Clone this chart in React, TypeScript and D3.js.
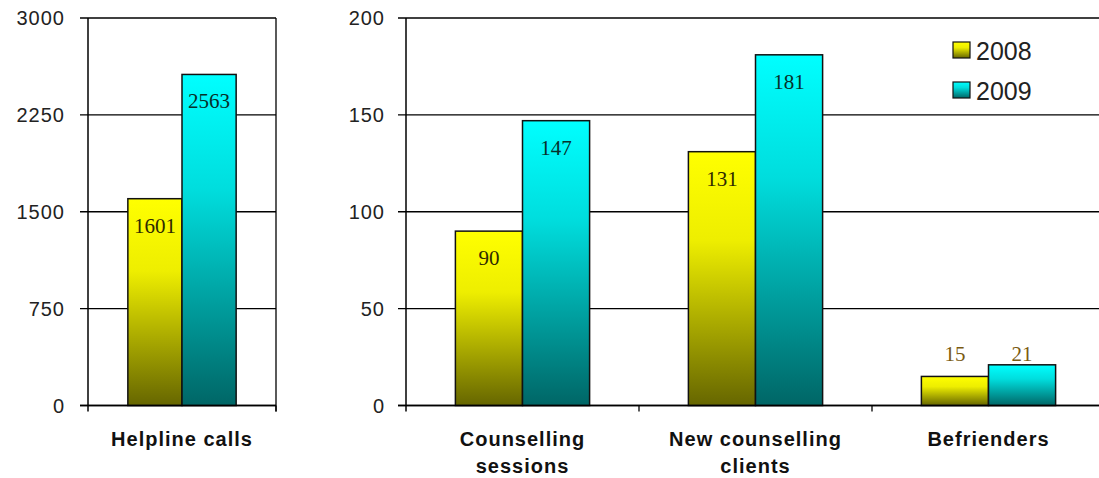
import React from "react";
import * as d3 from "d3";

const series = ["2008", "2009"];
const leftCategories = ["Helpline calls"];
const leftValues2008 = [1601];
const leftValues2009 = [2563];
const leftTicks = [0, 750, 1500, 2250, 3000];

const rightCategories = [["Counselling", "sessions"], ["New counselling", "clients"], ["Befrienders"]];
const rightValues2008 = [90, 131, 15];
const rightValues2009 = [147, 181, 21];
const rightTicks = [0, 50, 100, 150, 200];

const W = 1099;
const H = 478;
const TOP = 18;
const BOTTOM = 405.5;

const fills = ["url(#g2008)", "url(#g2009)"];

type PanelProps = {
  x0: number;
  x1: number;
  max: number;
  ticks: number[];
  cats: string[][];
  v1: number[];
  v2: number[];
  tickLabelX: number;
  rightBorder: boolean;
};

function Panel({ x0, x1, max, ticks, cats, v1, v2, tickLabelX, rightBorder }: PanelProps) {
  const y = d3.scaleLinear().domain([0, max]).range([BOTTOM, TOP]);
  const x = d3
    .scaleBand<number>()
    .domain(cats.map((_, i) => i))
    .range([x0, x1])
    .paddingInner(0)
    .paddingOuter(0);
  const bw = x.bandwidth();
  const inner = d3.scaleBand<number>().domain([0, 1]).range([0, bw]).paddingOuter(0.736).paddingInner(0);
  const vals = [v1, v2];
  return (
    <g>
      {ticks.map((t) => (
        <g key={t}>
          <line x1={x0 - 8} x2={x1} y1={y(t)} y2={y(t)} stroke="#000" strokeWidth={1.3} />
          <text
            x={tickLabelX}
            y={y(t)}
            dy="0.36em"
            textAnchor="end"
            fontFamily="Arial, 'Liberation Sans', sans-serif"
            fontSize={20}
            letterSpacing={1}
            fill="#222"
          >
            {t}
          </text>
        </g>
      ))}
      <line x1={x0} x2={x0} y1={TOP} y2={BOTTOM + 6} stroke="#000" strokeWidth={1.5} />
      {rightBorder && <line x1={x1} x2={x1} y1={TOP} y2={BOTTOM + 6} stroke="#000" strokeWidth={1.3} />}
      {cats.map((_, i) => (
        <line key={i} x1={(x(i) as number) + bw} x2={(x(i) as number) + bw} y1={BOTTOM} y2={BOTTOM + 6} stroke="#000" strokeWidth={1.3} />
      ))}
      {cats.map((c, i) =>
        [0, 1].map((s) => {
          const v = vals[s][i];
          const bx = (x(i) as number) + (inner(s) as number);
          const ib = inner.bandwidth();
          const top = y(v);
          const h = BOTTOM - top;
          const inside = h > 60;
          return (
            <g key={`${i}-${s}`}>
              <rect x={bx} y={top} width={ib} height={h} fill={fills[s]} stroke="#111" strokeWidth={1.5} />
              <text
                x={bx + ib / 2}
                y={inside ? top + 34 : y(25) + 4}
                textAnchor="middle"
                fontFamily="'Liberation Serif', 'Times New Roman', serif"
                fontSize={21}
                fill={inside ? (s === 0 ? "#2e2a00" : "#06302a") : "#7a5a10"}
              >
                {v}
              </text>
            </g>
          );
        })
      )}
      <line x1={x0 - 8} x2={x1} y1={BOTTOM} y2={BOTTOM} stroke="#000" strokeWidth={1.5} />
      {cats.map((c, i) => (
        <text
          key={i}
          x={(x(i) as number) + bw / 2}
          textAnchor="middle"
          fontFamily="Arial, 'Liberation Sans', sans-serif"
          fontWeight="bold"
          fontSize={20}
          letterSpacing={1}
          fill="#111"
        >
          {c.map((line, k) => (
            <tspan key={k} x={(x(i) as number) + bw / 2} y={446 + k * 27}>
              {line}
            </tspan>
          ))}
        </text>
      ))}
    </g>
  );
}

export default function App() {
  return (
    <svg width={W} height={H} style={{ position: "absolute", left: 0, top: 0, display: "block", background: "#fff" }}>
      <defs>
        <linearGradient id="g2008" x1="0" y1="0" x2="0" y2="1">
          <stop offset="0" stopColor="#ffff00" />
          <stop offset="0.35" stopColor="#eeee00" />
          <stop offset="1" stopColor="#666600" />
        </linearGradient>
        <linearGradient id="g2009" x1="0" y1="0" x2="0" y2="1">
          <stop offset="0" stopColor="#00ffff" />
          <stop offset="0.35" stopColor="#00dddd" />
          <stop offset="1" stopColor="#006666" />
        </linearGradient>
      </defs>
      <rect width={W} height={H} fill="#fff" />
      <Panel
        x0={88}
        x1={276}
        max={3000}
        ticks={leftTicks}
        cats={leftCategories.map((c) => [c])}
        v1={leftValues2008}
        v2={leftValues2009}
        tickLabelX={65}
        rightBorder={true}
      />
      <Panel
        x0={406}
        x1={1105}
        max={200}
        ticks={rightTicks}
        cats={rightCategories}
        v1={rightValues2008}
        v2={rightValues2009}
        tickLabelX={385}
        rightBorder={false}
      />
      {series.map((s, i) => (
        <g key={s} transform={`translate(953, ${42 + i * 40})`}>
          <rect x={0} y={0} width={17} height={16} fill={fills[i]} stroke="#111" strokeWidth={1.2} />
          <text x={23} y={9} dy="0.36em" fontFamily="Arial, 'Liberation Sans', sans-serif" fontSize={25} fill="#222">
            {s}
          </text>
        </g>
      ))}
    </svg>
  );
}
